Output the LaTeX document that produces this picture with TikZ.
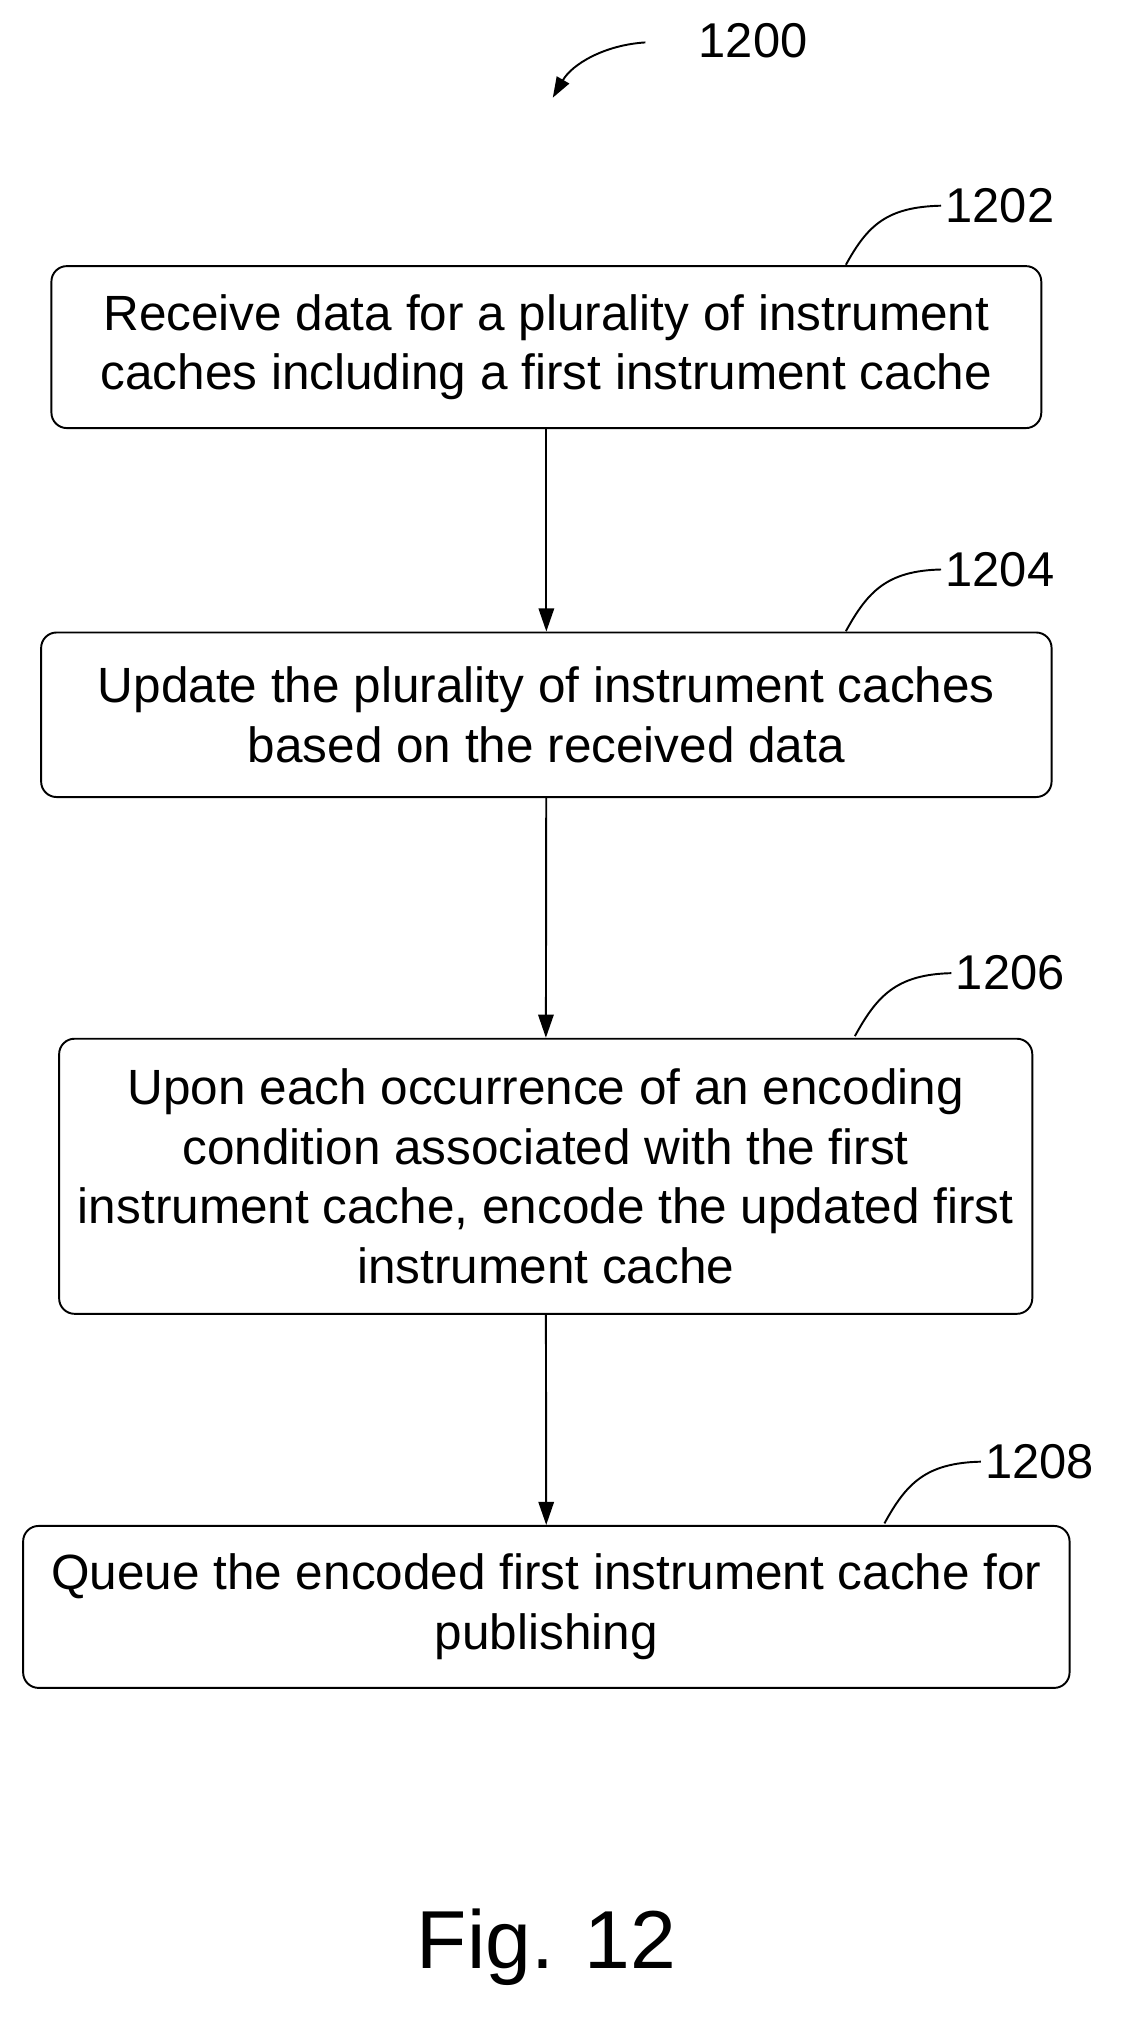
\documentclass[tikz,border=0pt]{standalone}
\usepackage{fontspec}
\setmainfont{Liberation Sans}
\usetikzlibrary{arrows.meta}
\begin{document}
\begin{tikzpicture}[x=1pt,y=-1pt,
  box/.style={draw,line width=1.5pt,rounded corners=12pt,align=center,inner sep=0pt,
    font=\fontsize{38.5}{46.5}\selectfont},
  arr/.style={line width=1.5pt,-{Triangle[length=18pt,width=12pt]}},
  lead/.style={line width=1.5pt},
  lab/.style={font=\fontsize{38}{40}\selectfont,anchor=west}]
\useasboundingbox (0,0) rectangle (886,1569);
\node[box,minimum width=770pt,minimum height=126pt] (b1) at (425,270) {Receive data for a plurality of instrument\\caches including a first instrument cache};
\node[box,minimum width=786pt,minimum height=128pt] (b2) at (425,556) {Update the plurality of instrument caches\\based on the received data};
\node[box,minimum width=757pt,minimum height=214pt] (b3) at (424.5,915) {Upon each occurrence of an encoding\\condition associated with the first\\instrument cache, encode the updated first\\instrument cache};
\node[box,minimum width=814pt,minimum height=126pt] (b4) at (425,1250) {Queue the encoded first instrument cache for\\publishing};
\draw[arr] (b1) -- (b2);
\draw[arr] (b2) -- (b3);
\draw[arr] (b3) -- (b4);
\node[lab] (l0) at (540,32) {1200};
\node[lab] (l1) at (732,160) {1202};
\node[lab] (l2) at (732,443) {1204};
\node[lab] (l3) at (740,757) {1206};
\node[lab] (l4) at (763,1137) {1208};
\coordinate (c0) at (502,33);
\draw[line width=1.5pt,-{Triangle[length=16pt,width=11pt]}] (c0) .. controls (470,35) and (445,50) .. (430,76);
\draw[lead] (658,206) .. controls (675,175) and (690,161) .. (l1.west);
\draw[lead] (658,491) .. controls (675,460) and (690,444) .. (l2.west);
\draw[lead] (665,806) .. controls (682,775) and (697,758) .. (l3.west);
\draw[lead] (688,1185) .. controls (705,1154) and (720,1138) .. (l4.west);
\node[font=\fontsize{64}{70}\selectfont] (fig) at (425,1515) {Fig. 12};
\end{tikzpicture}
\end{document}
